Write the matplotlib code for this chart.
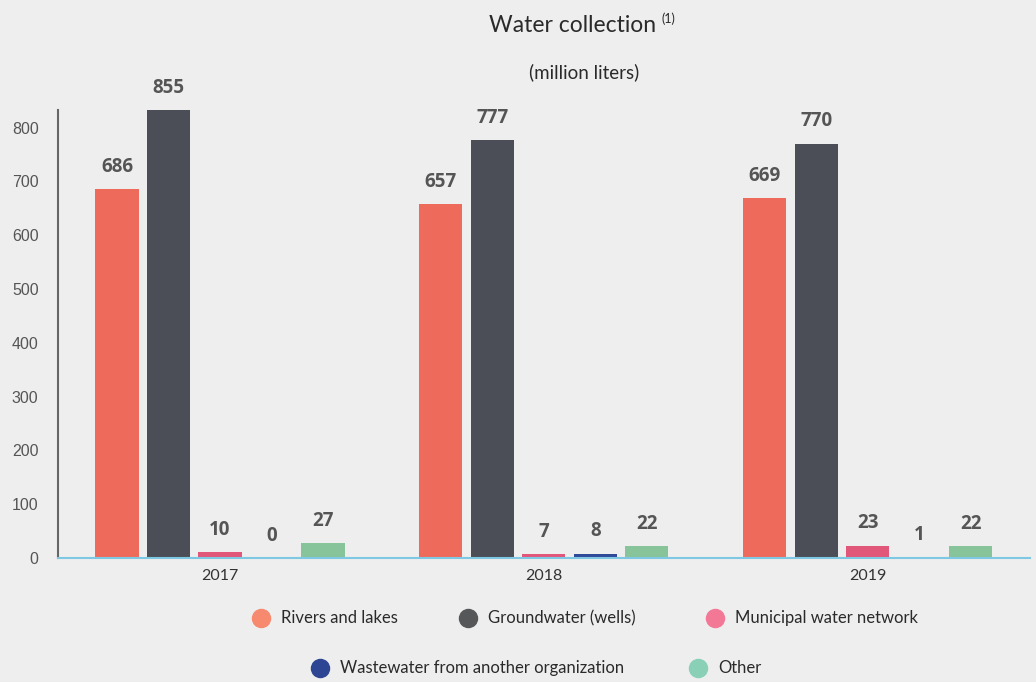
import matplotlib.pyplot as plt
import numpy as np

years = ["2017", "2018", "2019"]
series_names = [
    "Rivers and lakes",
    "Groundwater (wells)",
    "Municipal water network",
    "Wastewater from another organization",
    "Other",
]
rivers = [686, 657, 669]
groundwater = [855, 777, 770]
municipal = [10, 7, 23]
wastewater = [0, 8, 1]
other = [27, 22, 22]
yticks = [0, 100, 200, 300, 400, 500, 600, 700, 800]

bar_colors = ["#ee6a5a", "#4b4e56", "#e0577a", "#2e4a99", "#88c49a"]
legend_colors = ["#f78a6e", "#555759", "#f37896", "#2d4593", "#8ad0b6"]
bg = "#eeeeee"
text_gray = "#555555"
thin_font = dict(family="Lato", fontweight="normal", color="#2a2a2a")

fig = plt.figure(figsize=(10.36, 6.82), dpi=100, facecolor=bg)
ax = fig.add_axes([0.056, 0.182, 0.938, 0.657])
ax.set_facecolor(bg)

ymax = 833
x = np.arange(len(years))
pitch = 0.159
width = 0.133
all_series = [rivers, groundwater, municipal, wastewater, other]

for i, (values, color) in enumerate(zip(all_series, bar_colors)):
    offset = (i - 2) * pitch
    ax.bar(x + offset, values, width=width, color=color, zorder=2)
    for xi, v in zip(x + offset, values):
        # labels sit above the bar, or above the frame when the bar is clipped
        ax.annotate(
            str(v),
            xy=(xi, min(v, ymax)),
            xytext=(0, 16),
            textcoords="offset points",
            ha="center",
            va="center",
            fontsize=13.5,
            fontweight="bold",
            family="Open Sans",
            color=text_gray,
            annotation_clip=False,
        )

ax.set_xlim(-0.5, 2.5)
ax.set_ylim(0, ymax)
ax.set_yticks(yticks)
ax.set_yticklabels([str(t) for t in yticks], family="Liberation Sans",
                   fontsize=11.5, color=text_gray)
ax.set_xticks(x)
ax.set_xticklabels(years, family="Lato", fontsize=11.5, color="#333333")
ax.tick_params(axis="both", length=0)
ax.tick_params(axis="y", pad=14)
ax.tick_params(axis="x", pad=8)

for name in ["top", "right"]:
    ax.spines[name].set_visible(False)
ax.spines["left"].set_color("#666666")
ax.spines["left"].set_linewidth(1.5)
ax.spines["bottom"].set_color("#7ec8e3")
ax.spines["bottom"].set_linewidth(1.5)

# title with superscript note marker
title = fig.text(0.5526, 0.962, "Water collection", ha="center", va="center",
                 fontsize=16.5, **thin_font)
ax.annotate("(1)", xy=(1, 1), xycoords=title, xytext=(4, 2),
            textcoords="offset points", ha="left", va="top",
            fontsize=9, **thin_font)
fig.text(0.564, 0.894, "(million liters)", ha="center", va="center",
         fontsize=13.5, **thin_font)

# legend drawn in figure coordinates, two rows
legend_pos = [(261, 618), (468, 618), (715, 618), (320, 668), (698, 668)]
for (px, py), name, color in zip(legend_pos, series_names, legend_colors):
    fx, fy = px / 1036, 1 - py / 682
    fig.add_artist(plt.Line2D([fx], [fy], marker="o", markersize=13,
                              color=color, linestyle="none",
                              transform=fig.transFigure))
    fig.text(fx + 20 / 1036, fy, name, ha="left", va="center",
             fontsize=12, **thin_font)

fig.savefig("out.png", dpi=100, facecolor=bg)
